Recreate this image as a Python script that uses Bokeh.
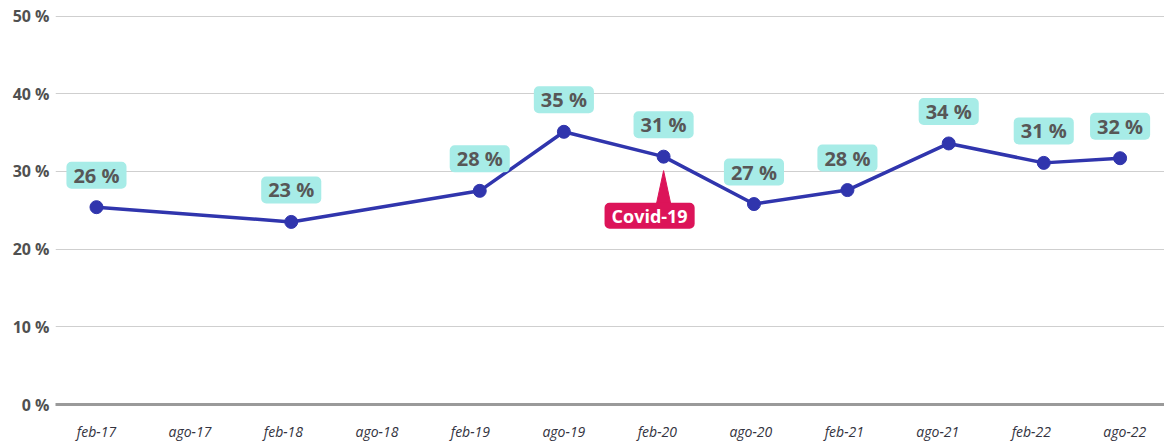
from bokeh.plotting import figure
from bokeh.models import ColumnDataSource, FixedTicker, Range1d
from bokeh.core.properties import value
from bokeh.embed import file_html
from bokeh.resources import INLINE

# ---- data ----
tick_labels = ["feb-17", "ago-17", "feb-18", "ago-18", "feb-19", "ago-19",
               "feb-20", "ago-20", "feb-21", "ago-21", "feb-22", "ago-22"]
# survey position in months since feb-2017
survey_month = [0, 12.5, 24.6, 30, 36.4, 42.2, 48.2, 54.7, 60.8, 65.7]
share_pct = [25.4, 23.5, 27.5, 35.1, 31.9, 25.8, 27.6, 33.6, 31.1, 31.7]
share_labels = ["26 %", "23 %", "28 %", "35 %", "31 %", "27 %", "28 %", "34 %", "31 %", "32 %"]
y_ticks = [0, 10, 20, 30, 40, 50]
y_tick_labels = ["0 %", "10 %", "20 %", "30 %", "40 %", "50 %"]
event_label = "Covid-19"
event_index = 4  # feb-20 survey

src = ColumnDataSource(dict(x=survey_month, y=share_pct, lab=share_labels))

p = figure(frame_width=1109, frame_height=404, output_backend="svg", toolbar_location=None,
           x_range=Range1d(-2.63, 68.55), y_range=Range1d(0, 52.0),
           min_border_left=55, min_border_right=0, min_border_top=0, min_border_bottom=37)
p.outline_line_color = None
p.background_fill_color = "white"
p.border_fill_color = "white"

# axes
tick_pos = [6 * i for i in range(len(tick_labels))]
p.xaxis.ticker = FixedTicker(ticks=tick_pos)
p.xaxis.major_label_overrides = {t: l for t, l in zip(tick_pos, tick_labels)}
p.xaxis.axis_line_color = "#9a9a9a"
p.xaxis.axis_line_width = 3
p.xaxis.major_tick_line_color = None
p.xaxis.minor_tick_line_color = None
p.xaxis.major_tick_out = 0
p.xaxis.major_tick_in = 0
p.xaxis.major_label_standoff = 17
p.xaxis.major_label_text_font = "Open Sans"
p.xaxis.major_label_text_font_style = "italic"
p.xaxis.major_label_text_font_size = "14px"
p.xaxis.major_label_text_color = "#333340"

p.yaxis.ticker = FixedTicker(ticks=y_ticks)
p.yaxis.major_label_overrides = {t: l for t, l in zip(y_ticks, y_tick_labels)}
p.yaxis.axis_line_color = None
p.yaxis.major_tick_line_color = None
p.yaxis.minor_tick_line_color = None
p.yaxis.major_tick_out = 0
p.yaxis.major_tick_in = 0
p.yaxis.major_label_standoff = 6
p.yaxis.major_label_text_font = "Open Sans"
p.yaxis.major_label_text_font_style = "bold"
p.yaxis.major_label_text_font_size = "16px"
p.yaxis.major_label_text_color = "#505050"

p.xgrid.grid_line_color = None
p.ygrid.grid_line_color = "#cfcfcf"
p.ygrid.grid_line_width = 1.2

# line + points
p.line("x", "y", source=src, line_color="#3035ad", line_width=3.5)
p.scatter("x", "y", source=src, size=13, fill_color="#3035ad", line_color="#3035ad")

# value labels
p.text("x", "y", text="lab", source=src, y_offset=-32,
       text_align="center", text_baseline="middle",
       text_font=value("Open Sans"), text_font_style="bold", text_font_size="20px",
       text_color="#575757",
       background_fill_color="#a7ece7", border_radius=5,
       padding=dict(left=7, right=7, top=0, bottom=0))

# Covid annotation
ex = survey_month[event_index]
ey = share_pct[event_index]
p.patch([ex - 0.45, ex + 0.45, ex], [ey - 6.0, ey - 6.0, ey - 1.8],
        fill_color="#dc1459", line_color="#dc1459")
p.text([ex], [ey], text=[event_label], x_offset=-14, y_offset=59,
       text_align="center", text_baseline="middle",
       text_font=value("Open Sans"), text_font_style="bold", text_font_size="18px",
       text_color="white",
       background_fill_color="#dc1459", border_radius=5,
       padding=dict(left=7, right=7, top=1, bottom=1))

open("out.html", "w").write(file_html(p, INLINE))
